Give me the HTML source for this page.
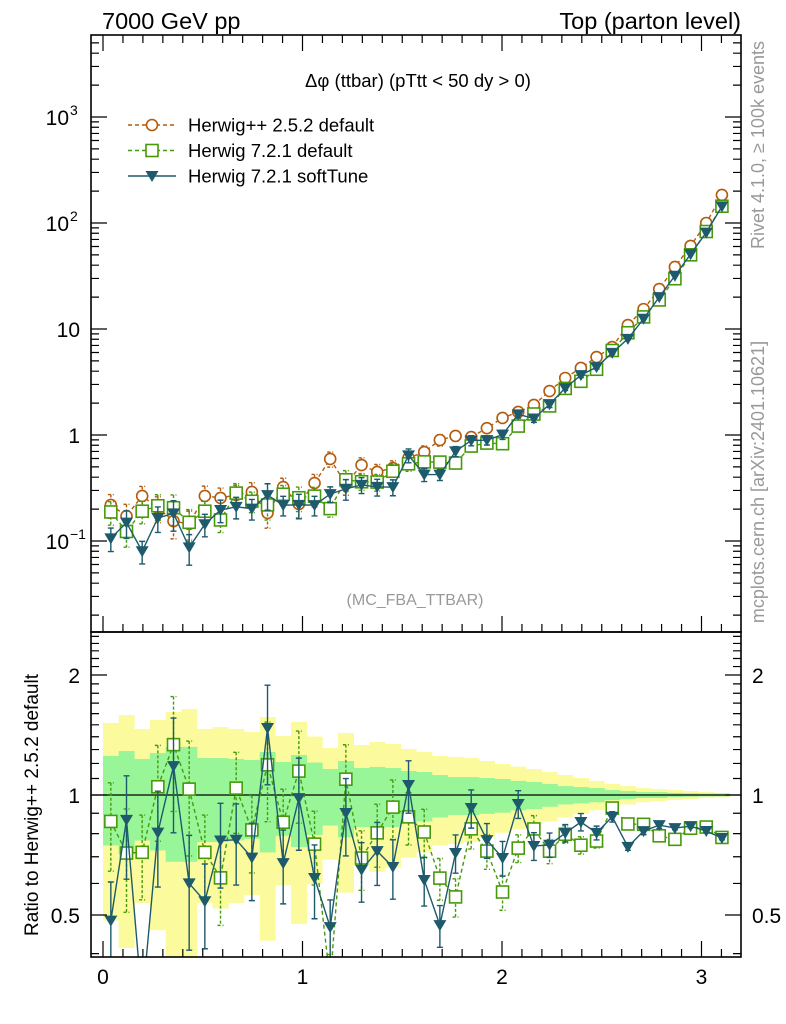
<!DOCTYPE html>
<html><head><meta charset="utf-8"><style>
html,body{margin:0;padding:0;background:#fff;}
svg{display:block;font-family:"Liberation Sans",sans-serif;}
</style></head><body>
<svg id="chart" width="786" height="1024" viewBox="0 0 786 1024">
<defs>
<clipPath id="clipMain"><rect x="91" y="35" width="650" height="597"/></clipPath>
<clipPath id="clipRatio"><rect x="91" y="632" width="650" height="325"/></clipPath>
</defs>
<g id="bands" clip-path="url(#clipRatio)"></g>
<g id="marks"></g>
<g id="axes"></g>
<text x="102" y="29" font-size="23.5">7000 GeV pp</text>
<text x="741" y="29" font-size="23.5" text-anchor="end">Top (parton level)</text>
<text x="418" y="87" font-size="18.5" text-anchor="middle">Δφ (ttbar) (pTtt &lt; 50 dy &gt; 0)</text>
<text x="415" y="605" font-size="16" fill="#999" text-anchor="middle">(MC_FBA_TTBAR)</text>
<text transform="translate(764,145) rotate(-90)" font-size="18" fill="#999" text-anchor="middle">Rivet 4.1.0, ≥ 100k events</text>
<text transform="translate(764,482) rotate(-90)" font-size="18" fill="#999" text-anchor="middle">mcplots.cern.ch [arXiv:2401.10621]</text>
<text transform="translate(38,805) rotate(-90)" font-size="19" text-anchor="middle">Ratio to Herwig++ 2.5.2 default</text>
<g id="legend"></g>
</svg>
<script>
const herwigPP = [0.219,0.172,0.266,0.205,0.154,0.145,0.266,0.255,0.272,0.290,0.184,0.323,0.223,0.352,0.594,0.345,0.521,0.448,0.488,0.607,0.691,0.897,0.98,0.957,1.16,1.45,1.65,1.92,2.60,3.45,4.29,5.44,6.76,10.9,15.4,23.8,38.5,60.7,100,184];
const herwig721 = [0.188,0.123,0.191,0.215,0.206,0.150,0.191,0.158,0.283,0.237,0.219,0.276,0.256,0.265,0.202,0.378,0.362,0.360,0.455,0.535,0.558,0.555,0.544,0.787,0.839,0.828,1.214,1.578,1.88,2.75,3.21,4.17,6.27,9.22,13.0,18.8,29.8,50.1,83.1,144];
const herwigSoft = [0.106,0.149,0.080,0.165,0.182,0.087,0.144,0.196,0.210,0.202,0.271,0.218,0.219,0.218,0.277,0.311,0.338,0.324,0.322,0.643,0.423,0.423,0.701,0.888,0.894,1.008,1.566,1.43,1.95,2.77,3.67,4.37,5.96,8.08,12.5,20.0,31.8,50.7,81.2,143.5];
const bandTotal = [0.516,0.587,0.464,0.542,0.615,0.643,0.464,0.481,0.464,0.439,0.569,0.406,0.525,0.402,0.312,0.431,0.335,0.358,0.343,0.304,0.282,0.253,0.246,0.238,0.217,0.196,0.178,0.162,0.142,0.122,0.103,0.084,0.066,0.053,0.041,0.035,0.029,0.023,0.017,0.012];
const bandStat = [0.253,0.289,0.231,0.274,0.320,0.320,0.238,0.238,0.231,0.224,0.282,0.210,0.260,0.206,0.162,0.217,0.169,0.176,0.169,0.149,0.142,0.122,0.109,0.109,0.103,0.097,0.085,0.078,0.066,0.053,0.047,0.041,0.029,0.023,0.017,0.017,0.012,0.010,0.008,0.008];
const relErr721 = [0.25,0.29,0.24,0.27,0.32,0.32,0.24,0.24,0.23,0.22,0.28,0.21,0.26,0.21,0.17,0.22,0.17,0.18,0.17,0.15,0.14,0.12,0.11,0.11,0.10,0.10,0.08,0.08,0.07,0.05,0.05,0.04,0.03,0.02,0.02,0.02,0.01,0.01,0.01,0.01];
const relErrSoft = [0.25,0.29,0.24,0.27,0.32,0.32,0.24,0.24,0.23,0.22,0.28,0.21,0.26,0.21,0.17,0.22,0.17,0.18,0.17,0.15,0.14,0.12,0.11,0.11,0.10,0.10,0.08,0.08,0.07,0.05,0.05,0.04,0.03,0.02,0.02,0.02,0.01,0.01,0.01,0.01];
const xTickLabels = ["0","1","2","3"];
const ratioTickLabels = ["0.5","1","2"];

const NS="http://www.w3.org/2000/svg";
const NB = herwigPP.length, W = Math.PI/NB;
const X = v => 103 + v*199.5;
const Ym = v => 435 - 106*Math.log10(v);
const Yr = r => 795 - 120*Math.log2(r);
function mk(tag, attrs, parent){const e=document.createElementNS(NS,tag);for(const k in attrs)e.setAttribute(k,attrs[k]);parent.appendChild(e);return e;}
const bands=document.getElementById('bands');
const marks=document.getElementById('marks');
const axes=document.getElementById('axes');

for(let i=0;i<NB;i++){
  const x0=X(i*W), x1=X((i+1)*W);
  const y=mk('rect',{x:x0,y:Yr(1+bandTotal[i]),width:x1-x0+0.3,height:Yr(Math.max(1-bandTotal[i],0.01))-Yr(1+bandTotal[i]),fill:'#fbfb9d'},bands);
  
  
}
for(let i=0;i<NB;i++){
  const x0=X(i*W), x1=X((i+1)*W);
  const g=mk('rect',{x:x0,y:Yr(1+bandStat[i]),width:x1-x0+0.3,height:Yr(1-bandStat[i])-Yr(1+bandStat[i]),fill:'#98f598'},bands);
  
  
}
const one=mk('line',{x1:91,x2:741,y1:Yr(1),y2:Yr(1),stroke:'#000','stroke-width':1.3},bands);



const series=[
 {name:'herwigpp-2-5-2',vals:herwigPP,err:bandStat,color:'#b35a0c',dash:'4,3',marker:'circle',ratio:false},
 {name:'herwig-7-2-1-default',vals:herwig721,err:relErr721,color:'#469a0a',dash:'4,3',marker:'square',ratio:true},
 {name:'herwig-7-2-1-softtune',vals:herwigSoft,err:relErrSoft,color:'#1d5a6c',dash:'',marker:'tri',ratio:true}
];
function marker(g,m,x,y,c){
  let e;
  if(m==='circle') e=mk('circle',{cx:x,cy:y,r:5.5,fill:'#fff',stroke:c,'stroke-width':1.6},g);
  else if(m==='square') e=mk('rect',{x:x-6,y:y-6,width:12,height:12,fill:'#fff',stroke:c,'stroke-width':1.6},g);
  else e=mk('polygon',{points:`${x-6.5},${y-5} ${x+6.5},${y-5} ${x},${y+6}`,fill:c},g);
  return e;
}
function drawSeries(s,panel){
  const g=mk('g',{'clip-path':panel==='main'?'url(#clipMain)':'url(#clipRatio)'},marks);
  
  
  const yf = panel==='main' ? (i=>s.vals[i]) : (i=>s.vals[i]/herwigPP[i]);
  const Yf = panel==='main' ? Ym : Yr;
  let pts=[];
  for(let i=0;i<NB;i++) pts.push(X((i+0.5)*W)+','+Yf(yf(i)));
  const pl=mk('polyline',{points:pts.join(' '),fill:'none',stroke:s.color,'stroke-width':1.4},g);
  if(s.dash) pl.setAttribute('stroke-dasharray',s.dash);
  
  
  for(let i=0;i<NB;i++){
    const x=X((i+0.5)*W), v=yf(i), e=s.err[i];
    const yt=Yf(v*(1+e)), yb=Yf(Math.max(v*(1-e),1e-4));
    const eb=mk('path',{d:`M${x},${yt}V${yb}M${x-3},${yt}H${x+3}M${x-3},${yb}H${x+3}`,stroke:s.color,'stroke-width':1.4,fill:'none'},g);
    if(s.dash) eb.setAttribute('stroke-dasharray','3,2');
    
    
  }
  for(let i=0;i<NB;i++){
    const m=marker(g,s.marker,X((i+0.5)*W),Yf(yf(i)),s.color);
    
    
  }
}
series.forEach(s=>drawSeries(s,'main'));
series.filter(s=>s.ratio).forEach(s=>drawSeries(s,'ratio'));

const f1=mk('rect',{x:91,y:35,width:650,height:597,fill:'none',stroke:'#000','stroke-width':1.6},axes);


const f2=mk('rect',{x:91,y:632,width:650,height:325,fill:'none',stroke:'#000','stroke-width':1.6},axes);



let tk='';
for(let k=0;k<=32;k++){
  const v=k/10, x=X(v); if(x>741) break;
  const L = k%10===0?16:8;
  tk+=`M${x},957V${957-L}M${x},35V${35+L}M${x},632V${632-L}`;
}
for(let d=-2;d<=3;d++){
  for(let m=1;m<=9;m++){
    const y=Ym(m*Math.pow(10,d)); if(y<35||y>632) continue;
    const L=m===1?16:8;
    tk+=`M91,${y}H${91+L}M741,${y}H${741-L}`;
  }
}
for(let k=4;k<=25;k++){
  const r=k/10, y=Yr(r); if(y<632||y>957) continue;
  const L=(k===5||k===10||k===20)?16:8;
  tk+=`M91,${y}H${91+L}M741,${y}H${741-L}`;
}
const ticks=mk('path',{d:tk,stroke:'#000','stroke-width':1.2,fill:'none'},axes);



xTickLabels.forEach(l=>{
  const t=mk('text',{x:X(+l),y:984,'font-size':21,'text-anchor':'middle'},axes);
  t.textContent=l;
  
  
});
ratioTickLabels.forEach(l=>{
  [[80,'end'],[752,'start']].forEach(([x,a])=>{
    const t=mk('text',{x:x,y:Yr(+l)+8,'font-size':21,'text-anchor':a},axes);
    t.textContent=l;
    
    
  });
});
const mainLabels=[[3,'10','3'],[2,'10','2'],[1,'10',''],[0,'1',''],[-1,'10','−1']];
mainLabels.forEach(([p,b,e])=>{
  const y=Ym(Math.pow(10,p))+8;
  const t=mk('text',{x:e?69:80,y:y,'font-size':21,'text-anchor':'end'},axes);
  t.textContent=b;
  
  
  if(e){
    const s=mk('text',{x:70,y:y-10,'font-size':14,'text-anchor':'start'},axes);
    s.textContent=e;
    
    
  }
});

const lg=document.getElementById('legend');
const legendNames=['Herwig++ 2.5.2 default','Herwig 7.2.1 default','Herwig 7.2.1 softTune'];
series.forEach((s,i)=>{
  const y=125+i*25.5;
  const g=mk('g',{},lg);
  
  
  const l=mk('line',{x1:128,x2:176,y1:y,y2:y,stroke:s.color,'stroke-width':1.4},g);
  if(s.dash) l.setAttribute('stroke-dasharray',s.dash);
  marker(g,s.marker,152,y,s.color);
  const t=mk('text',{x:188,y:y+6.5,'font-size':18.5},g);
  t.textContent=legendNames[i];
});
</script>
</body></html>
